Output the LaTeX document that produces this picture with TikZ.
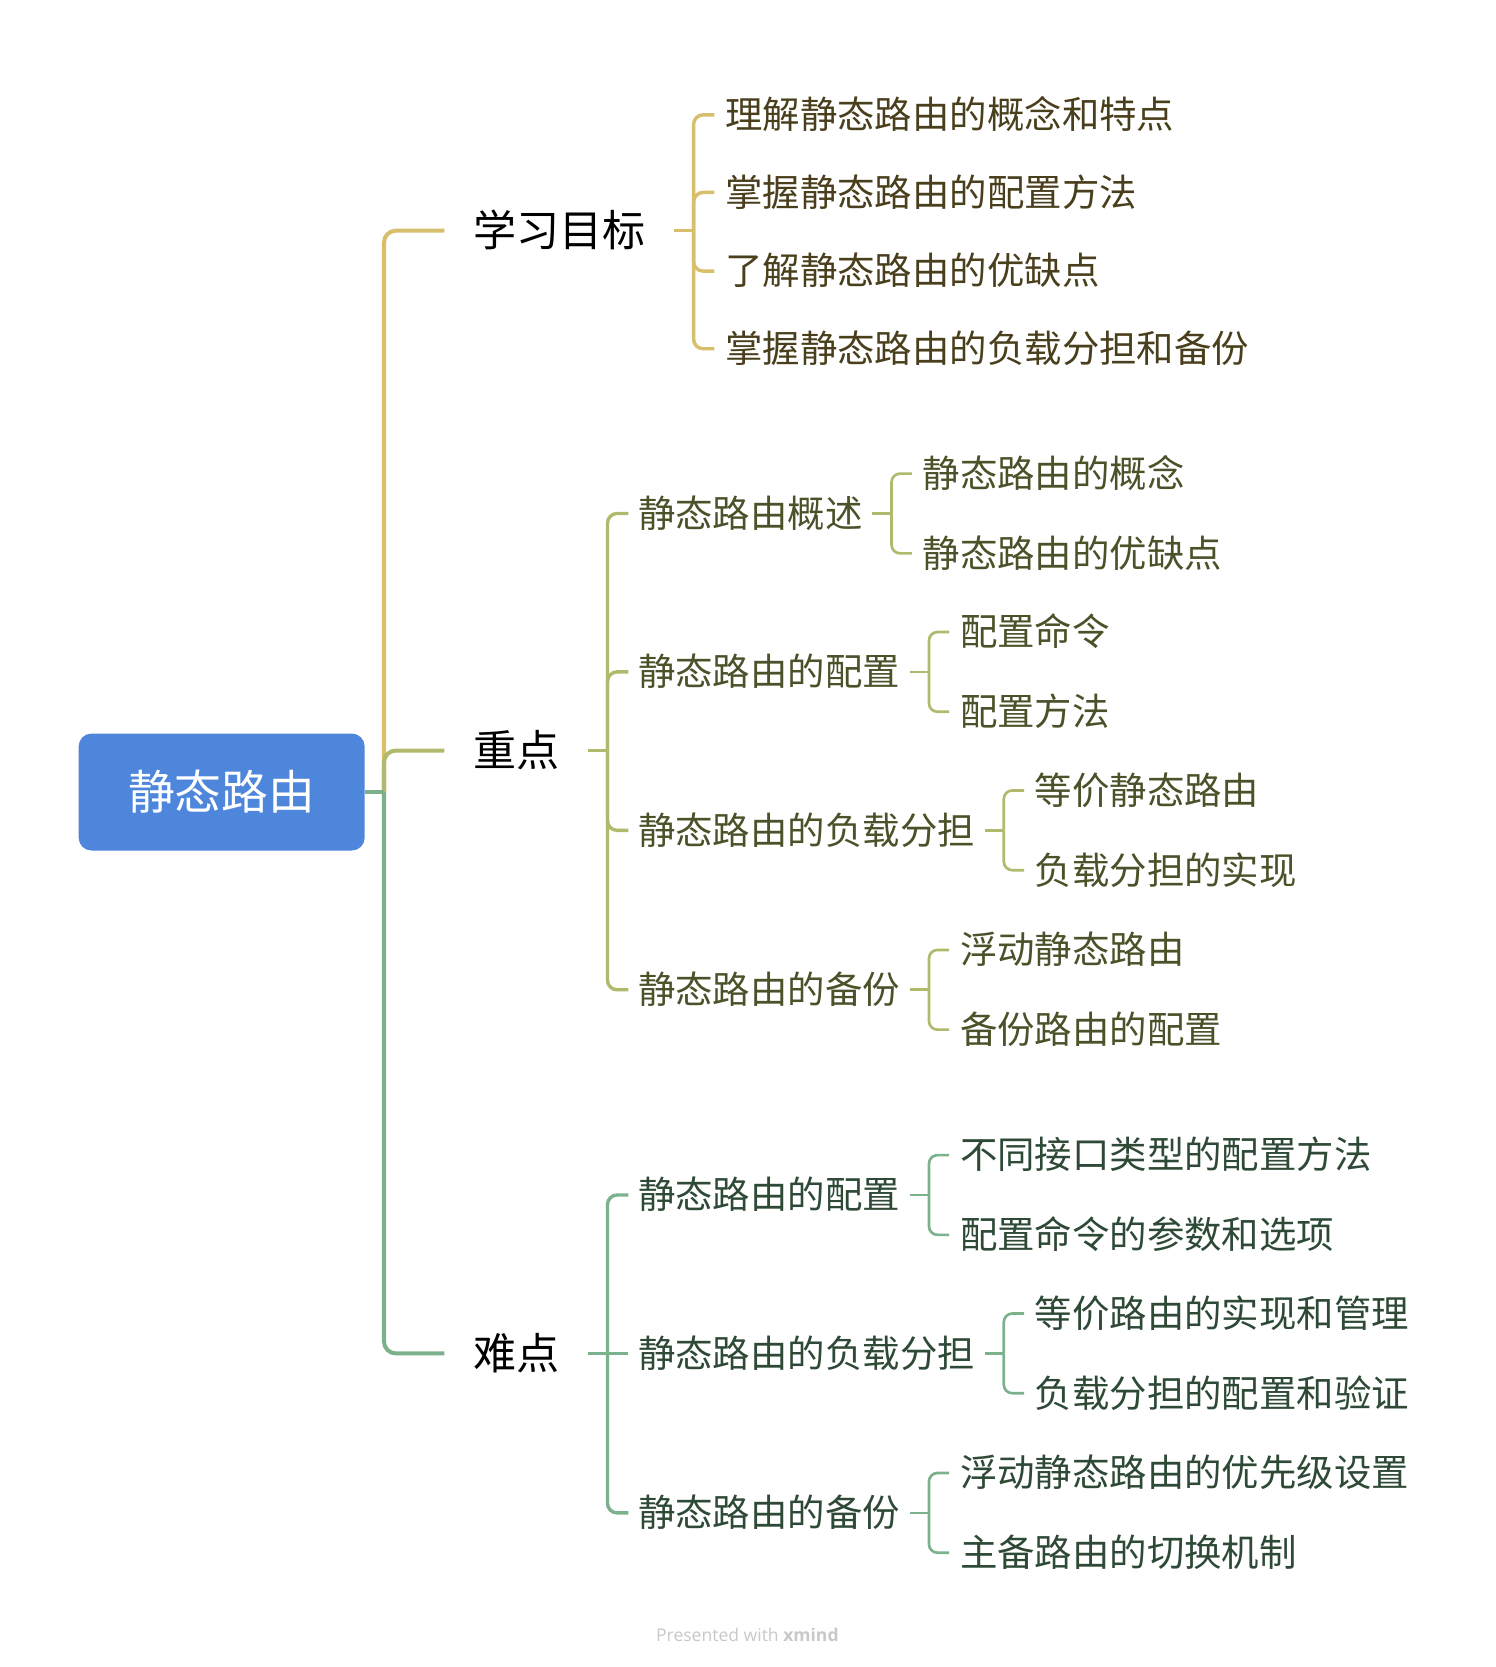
\documentclass[tikz,border=0pt]{standalone}
\usepackage{fontspec}
\setmainfont{Noto Sans CJK SC}
\newfontfamily\markfont{Open Sans}
\usetikzlibrary{positioning}

\definecolor{Croot}{HTML}{4E86DB}
\definecolor{Clineyellow}{HTML}{D8BF6C}
\definecolor{Ctextyellow}{HTML}{4A3F1C}
\definecolor{Clineolive}{HTML}{B1B96D}
\definecolor{Ctextolive}{HTML}{4A5229}
\definecolor{Clinegreen}{HTML}{7CB28B}
\definecolor{Ctextgreen}{HTML}{2E4A36}
\definecolor{Cmark}{HTML}{C8C8C8}

\tikzset{
	topic/.style={anchor=west,inner xsep=27pt,inner ysep=0pt,
		text height=30pt,text depth=0pt,font=\fontsize{40.5}{44}\selectfont},
	subtopic/.style={anchor=west,inner xsep=9pt,inner ysep=0pt,
		text height=26pt,text depth=0pt,font=\fontsize{35.2}{40}\selectfont},
	leaf/.style={subtopic,inner xsep=10pt},
	trunk/.style={line width=3.8pt,rounded corners=11pt},
	branch/.style={line width=3.2pt,rounded corners=9pt},
	twig/.style={line width=2.5pt,rounded corners=8pt}
}

\begin{document}
\begin{tikzpicture}[x=1pt,y=-1pt]
		\useasboundingbox (0,0) rectangle (1407,1568);
		\node[fill=Croot,rounded corners=12pt,minimum width=269pt,minimum height=110pt,
			text=white,text height=32.6pt,text depth=0pt,
			font=\fontsize{44}{48}\selectfont] (root) at (208.5,745) {静态路由};
		\node[topic] (goal) at (418,217) {学习目标};
		\node[topic] (key) at (418,706) {重点};
		\node[topic] (hard) at (418,1273) {难点};
		% 学习目标
		\foreach \n/\y/\t in {g1/108/理解静态路由的概念和特点,g2/181/掌握静态路由的配置方法,
				g3/255/了解静态路由的优缺点,g4/328/掌握静态路由的负载分担和备份}
			\node[leaf,text=Ctextyellow] (\n) at (672,\y) {\t};
		% 重点
		\foreach \n/\y/\t in {k1/483/静态路由概述,k2/632/静态路由的配置,
				k3/781/静态路由的负载分担,k4/931/静态路由的备份}{
			\node[subtopic,text=Ctextolive] (\n) at (591,\y) {\t};
			\coordinate (\n fork) at ([xshift=18pt]\n.east);}
		\foreach \p/\n/\s/\t in {k1/k1a/1/静态路由的概念,k1/k1b/-1/静态路由的优缺点,
				k2/k2a/1/配置命令,k2/k2b/-1/配置方法,
				k3/k3a/1/等价静态路由,k3/k3b/-1/负载分担的实现,
				k4/k4a/1/浮动静态路由,k4/k4b/-1/备份路由的配置}
			\node[leaf,text=Ctextolive,right=37pt of \p,yshift=\s*37.5pt] (\n) {\t};
		% 难点
		\foreach \n/\y/\t in {h1/1124/静态路由的配置,h2/1273/静态路由的负载分担,
				h3/1423/静态路由的备份}{
			\node[subtopic,text=Ctextgreen] (\n) at (591,\y) {\t};
			\coordinate (\n fork) at ([xshift=18pt]\n.east);}
		\foreach \p/\n/\s/\t in {h1/h1a/1/不同接口类型的配置方法,h1/h1b/-1/配置命令的参数和选项,
				h2/h2a/1/等价路由的实现和管理,h2/h2b/-1/负载分担的配置和验证,
				h3/h3a/1/浮动静态路由的优先级设置,h3/h3b/-1/主备路由的切换机制}
			\node[leaf,text=Ctextgreen,right=37pt of \p,yshift=\s*37.5pt] (\n) {\t};
		\node[font=\markfont\fontsize{16.5}{19}\selectfont,text=Cmark] (mark) at (703,1538)
			{Presented with \textbf{xmind}};

		% connectors
		\coordinate (rootfork) at ([xshift=18pt]root.east);
		\coordinate (goalfork) at ([xshift=18pt]goal.east);
		\coordinate (keyfork) at ([xshift=18pt]key.east);
		\coordinate (hardfork) at ([xshift=18pt]hard.east);
		\draw[trunk,Clineyellow] (rootfork) |- (goal.west);
		\draw[trunk,Clineolive] (rootfork) |- (key.west);
		\draw[trunk,Clinegreen] (rootfork) |- (hard.west);
		\draw[trunk,Clinegreen] (root.east) -- (rootfork);

		\draw[branch,Clineyellow] (goal.east) -- (goalfork);
		\foreach \n in {g1,g2,g3,g4}
			\draw[branch,Clineyellow] (goalfork) |- (\n.west);

		\draw[branch,Clineolive] (key.east) -- (keyfork);
		\foreach \n in {k1,k2,k3,k4}{
			\draw[branch,Clineolive] (keyfork) |- (\n.west);
			\draw[twig,Clineolive] (\n.east) -- (\n fork);
			\draw[twig,Clineolive] (\n fork) |- (\n a.west);
			\draw[twig,Clineolive] (\n fork) |- (\n b.west);}

		\draw[branch,Clinegreen] (hard.east) -- (hardfork) -- (h2.west);
		\foreach \n in {h1,h3}
			\draw[branch,Clinegreen] (hardfork) |- (\n.west);
		\foreach \n in {h1,h2,h3}{
			\draw[twig,Clinegreen] (\n.east) -- (\n fork);
			\draw[twig,Clinegreen] (\n fork) |- (\n a.west);
			\draw[twig,Clinegreen] (\n fork) |- (\n b.west);}
	\end{tikzpicture}
\end{document}
